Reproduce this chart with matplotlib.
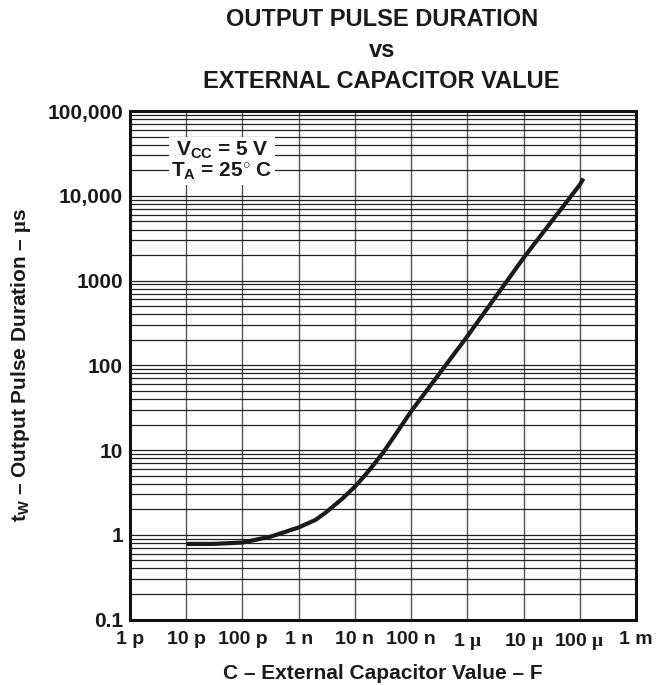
import matplotlib.pyplot as plt
from matplotlib.ticker import LogLocator, NullLocator

plt.rcParams['font.family'] = ['Liberation Sans', 'DejaVu Sans']
plt.rcParams['font.weight'] = 'bold'
plt.rcParams['mathtext.fontset'] = 'custom'
plt.rcParams['mathtext.rm'] = 'Liberation Serif'
plt.rcParams['mathtext.bf'] = 'Liberation Sans:bold'
plt.rcParams['mathtext.it'] = 'Liberation Sans:bold'

# Curve (capacitance in F, pulse width in us)
cap = [10e-12, 30e-12, 100e-12, 316e-12, 1e-9, 2e-9, 3.1e-9, 6.1e-9, 10e-9,
       15e-9, 20e-9, 31.6e-9, 50e-9, 100e-9, 1e-6, 10e-6, 100e-6, 116e-6]
tw = [0.78, 0.78, 0.81, 0.95, 1.22, 1.5, 1.85, 2.7, 3.7,
      5.0, 6.3, 9.3, 14.5, 28.6, 220, 1850, 13500, 16000]

x_ticks = [1e-12, 1e-11, 1e-10, 1e-9, 1e-8, 1e-7, 1e-6, 1e-5, 1e-4, 1e-3]
x_labels = ['1 p', '10 p', '100 p', '1 n', '10 n', '100 n',
            r'1 $\mathrm{\mu}$', r'10 $\mathrm{\mu}$', r'100 $\mathrm{\mu}$', '1 m']
y_ticks = [0.1, 1, 10, 100, 1000, 10000, 100000]
y_labels = ['0.1', '1', '10', '100', '1000', '10,000', '100,000']

ink = '#1a1a1a'

fig = plt.figure(figsize=(6.58, 6.85), dpi=100)
ax = fig.add_axes([0.1976, 0.0956, 0.769, 0.7423])

ax.set_xscale('log')
ax.set_yscale('log')
ax.set_xlim(1e-12, 1e-3)
ax.set_ylim(0.1, 100000)

ax.xaxis.set_minor_locator(NullLocator())
ax.yaxis.set_minor_locator(LogLocator(base=10, subs=range(2, 10), numticks=20))
ax.set_xticks(x_ticks)
ax.set_xticklabels(x_labels, fontsize=14, fontweight='bold', color=ink)
ax.set_yticks(y_ticks)
ax.set_yticklabels(y_labels, fontsize=15, fontweight='bold', color=ink)
ax.tick_params(axis='y', which='both', length=0, pad=5)
ax.tick_params(axis='x', which='both', length=0, pad=8)

ax.grid(True, axis='x', which='major', color='#555555', lw=1.0)
ax.grid(True, axis='y', which='both', color='#222222', lw=0.9)
for s in ax.spines.values():
    s.set_linewidth(2.2)
    s.set_color('#111111')

ax.plot(cap, tw, color=ink, lw=3.0, solid_capstyle='butt', zorder=3)

ax.text(0.182, 0.902, r'$\mathbf{V_{CC}}$ = 5 V' + '\n' + r'$\mathbf{T_A}$ = 25$\mathrm{^{\circ}}$ C',
        transform=ax.transAxes, ha='center', va='center', fontsize=15,
        fontweight='bold', linespacing=1.0, color=ink, zorder=4,
        bbox=dict(facecolor='white', edgecolor='none', pad=2))

ax.set_xlabel('C – External Capacitor Value – F', fontsize=15,
              fontweight='bold', labelpad=9, color=ink)
ax.set_ylabel(r'$\mathbf{t_W}$ – Output Pulse Duration – $\mathrm{\mu}$s',
              fontsize=15, fontweight='bold', labelpad=10, color=ink)

cx = 0.58
fig.text(cx, 1 - 20 / 685, 'OUTPUT PULSE DURATION', ha='center', va='center',
         fontsize=17, fontweight='bold', color=ink)
fig.text(cx, 1 - 57 / 685, 'vs', ha='center', va='baseline',
         fontsize=17, fontweight='bold', color=ink)
fig.text(cx, 1 - 81 / 685, 'EXTERNAL CAPACITOR VALUE', ha='center', va='center',
         fontsize=17, fontweight='bold', color=ink)

fig.savefig('out.png', dpi=100, facecolor='white')
